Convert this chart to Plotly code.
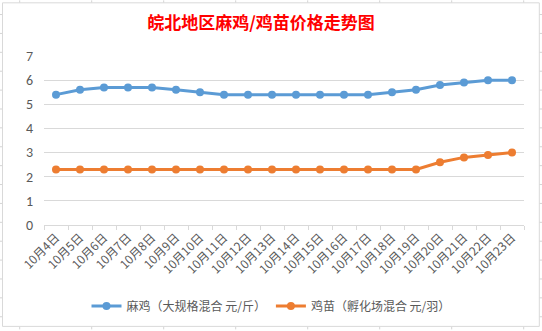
import plotly.graph_objects as go

categories = ["10月4日", "10月5日", "10月6日", "10月7日", "10月8日", "10月9日", "10月10日",
              "10月11日", "10月12日", "10月13日", "10月14日", "10月15日", "10月16日", "10月17日",
              "10月18日", "10月19日", "10月20日", "10月21日", "10月22日", "10月23日"]
maji = [5.4, 5.6, 5.7, 5.7, 5.7, 5.6, 5.5, 5.4, 5.4, 5.4, 5.4, 5.4, 5.4, 5.4, 5.5, 5.6, 5.8, 5.9, 6.0, 6.0]
jimiao = [2.3, 2.3, 2.3, 2.3, 2.3, 2.3, 2.3, 2.3, 2.3, 2.3, 2.3, 2.3, 2.3, 2.3, 2.3, 2.3, 2.6, 2.8, 2.9, 3.0]
name_maji = "麻鸡（大规格混合 元/斤）"
name_jimiao = "鸡苗（孵化场混合 元/羽）"
title_text = "皖北地区麻鸡/鸡苗价格走势图"

W, H = 542, 331
L, R, T, B = 44, 524, 56, 226  # plot area in pixels

def px(x):
    return (x - L) / (R - L)

def py(y):
    return (B - y) / (B - T)

CJK = "Noto Sans CJK SC, Microsoft YaHei, sans-serif"
GRAY = "#595959"

fig = go.Figure()
fig.add_trace(go.Scatter(x=categories, y=maji, name=name_maji, mode="lines+markers",
                         line=dict(color="#5B9BD5", width=3), marker=dict(size=8, color="#5B9BD5")))
fig.add_trace(go.Scatter(x=categories, y=jimiao, name=name_jimiao, mode="lines+markers",
                         line=dict(color="#ED7D31", width=3), marker=dict(size=8, color="#ED7D31")))

shapes = []
# spreadsheet cell lines in the background
sheet = "#D4D4D4"
xv = 19.7
while xv < W:
    shapes.append(dict(type="line", xref="paper", yref="paper", x0=px(xv), x1=px(xv),
                       y0=py(0), y1=py(H), line=dict(color=sheet, width=1), layer="below"))
    xv += 72
yv = 14.3
while yv < H:
    shapes.append(dict(type="line", xref="paper", yref="paper", x0=px(0), x1=px(W),
                       y0=py(yv), y1=py(yv), line=dict(color=sheet, width=1), layer="below"))
    yv += 19
# chart area
shapes.append(dict(type="rect", xref="paper", yref="paper", x0=px(2.5), x1=px(539.3),
                   y0=py(328), y1=py(2.5), fillcolor="white",
                   line=dict(color="#D9D9D9", width=1), layer="below"))

fig.update_layout(
    width=W, height=H,
    margin=dict(l=L, r=W - R, t=T, b=H - B, pad=0),
    paper_bgcolor="white", plot_bgcolor="rgba(0,0,0,0)",
    title=dict(text=title_text, x=261 / W, xanchor="center", y=1 - 23 / H, yanchor="middle",
               font=dict(family=CJK, size=17, color="#FF0000", weight="bold")),
    showlegend=True,
    legend=dict(orientation="h", x=0.5 - (L - (W - R)) / 2 / (R - L) + 0.0, xanchor="center",
                y=py(306), yanchor="middle", font=dict(family=CJK, size=12, color=GRAY),
                bgcolor="rgba(0,0,0,0)", itemwidth=30),
    shapes=shapes,
    font=dict(family=CJK, color=GRAY),
)
fig.update_xaxes(type="category", tickangle=-45, showgrid=False, showline=True, linecolor="#D9D9D9",
                 linewidth=1, ticks="outside", tickson="boundaries", ticklen=4, tickcolor="#D9D9D9",
                 tickfont=dict(family=CJK, size=12, color=GRAY), range=[-0.5, 19.5])
fig.update_yaxes(range=[0, 7], dtick=1, showgrid=True, gridcolor="#D9D9D9", gridwidth=1,
                 zeroline=False, showline=False, ticks="", ticklabelstandoff=10,
                 tickfont=dict(family="Calibri, Liberation Sans, sans-serif", size=14, color=GRAY))

fig.write_html("out.html")
